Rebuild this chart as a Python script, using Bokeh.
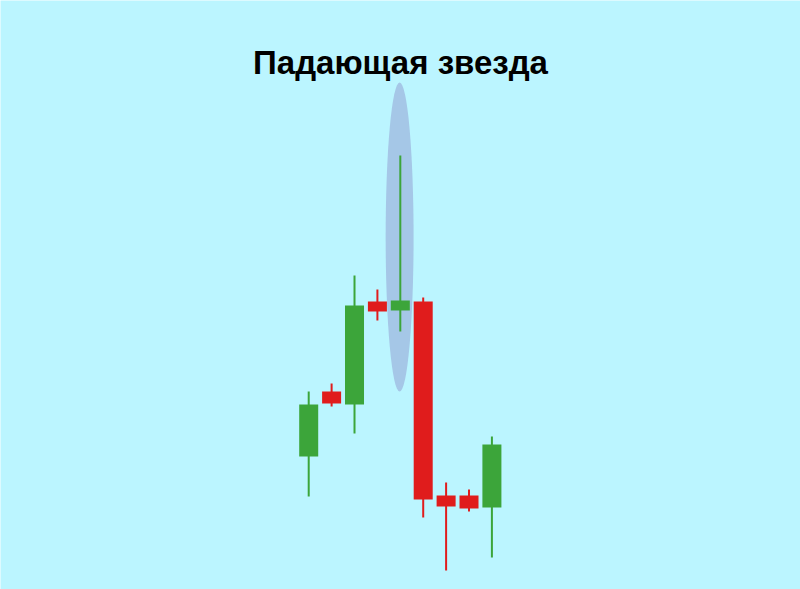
from bokeh.plotting import figure
from bokeh.models import Range1d, Label, ColumnDataSource
from bokeh.embed import file_html
from bokeh.resources import INLINE

# Candle data (index, open, high, low, close)
idx = [0, 1, 2, 3, 4, 5, 6, 7, 8]
opens = [72, 104.5, 98, 149.5, 145, 149.5, 52.5, 52.5, 46.5]
highs = [104.5, 108.5, 162.5, 155.5, 222.5, 151.5, 59, 55.5, 82]
lows = [52, 97, 83.5, 140, 134.5, 41.5, 15, 44.5, 21.5]
closes = [98, 98.5, 147.5, 144.5, 150, 50.5, 47, 46, 78]

# highlighted "shooting star" candle
star_index = 4
title_text = "Падающая звезда"

GREEN = "#3ca53a"
RED = "#e01c1c"
BG = "#bbf5ff"
HIGHLIGHT = "#a5c7e7"

W, H = 800, 589
p = figure(width=W, height=H, output_backend="svg", toolbar_location=None,
           x_range=Range1d(-13.459, 21.476), y_range=Range1d(5.5, 300),
           min_border=0, min_border_left=0, min_border_right=0,
           min_border_top=0, min_border_bottom=0)
p.axis.visible = False
p.grid.visible = False
p.outline_line_color = None
p.background_fill_color = BG
p.border_fill_color = BG

# highlight ellipse around the star
p.ellipse(x=[star_index - 0.03], y=[181.75], width=1.22, height=154.5,
          fill_color=HIGHLIGHT, line_color=None)

colors = [GREEN if c >= o else RED for o, c in zip(opens, closes)]
src = ColumnDataSource(dict(x=idx, o=opens, h=highs, l=lows, c=closes,
                            top=[max(o, c) for o, c in zip(opens, closes)],
                            bot=[min(o, c) for o, c in zip(opens, closes)],
                            color=colors))
p.segment(x0="x", y0="l", x1="x", y1="h", line_color="color", line_width=2, source=src)
p.vbar(x="x", width=0.83, top="top", bottom="bot", fill_color="color",
       line_color=None, source=src)

p.add_layout(Label(x=400, y=526.7, x_units="screen", y_units="screen",
                   text=title_text, text_align="center", text_baseline="alphabetic",
                   text_font="Liberation Sans", text_font_style="bold",
                   text_font_size="33px", text_color="#000000"))

html = file_html(p, INLINE)
html = html.replace("<body>", '<body style="margin:0;background:%s;overflow:hidden">' % BG, 1)
open("out.html", "w").write(html)
